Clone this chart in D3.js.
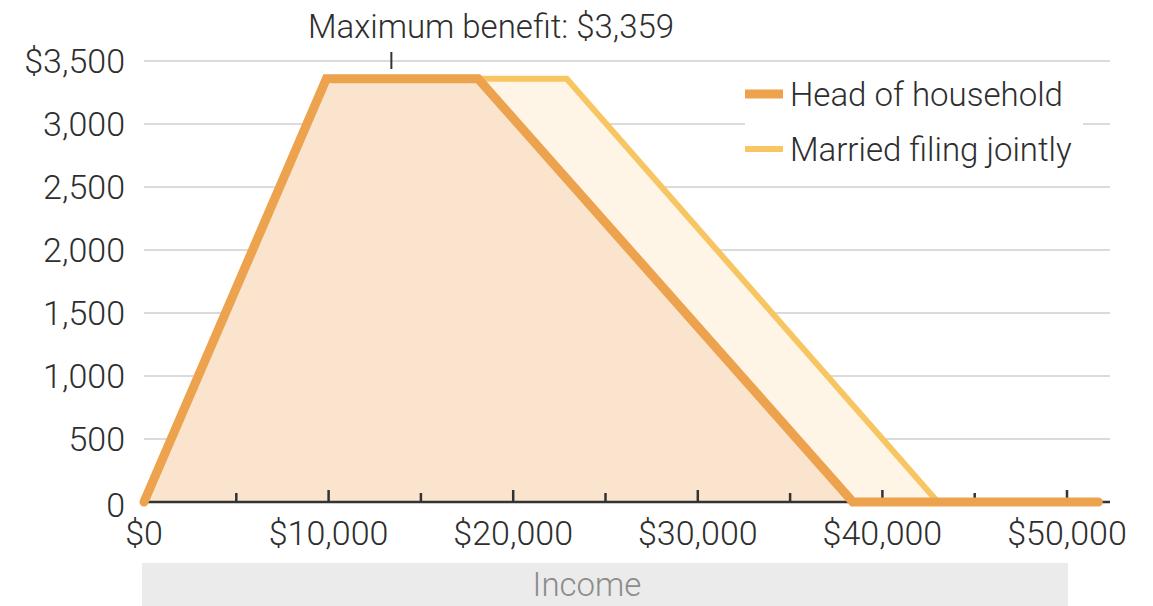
<!DOCTYPE html>
<html>
<head>
<meta charset="utf-8">
<script src="https://cdn.jsdelivr.net/npm/d3@7"></script>
<style>
  html, body { margin: 0; padding: 0; background: #fff; }
  svg { display: block; }
  text { font-family: Roboto, "Noto Sans", sans-serif; font-weight: 300; }
</style>
</head>
<body>
<svg id="chart" width="1153" height="606"></svg>
<script>
// ---- data ----
const hohIncome  = [0, 9880, 18100, 38400, 51700];
const hohBenefit = [0, 3359, 3359, 0, 0];
const mfjIncome  = [0, 9880, 22900, 43000, 51700];
const mfjBenefit = [0, 3359, 3359, 0, 0];

const yTicks = [0, 500, 1000, 1500, 2000, 2500, 3000, 3500];
const yTickLabels = ["0", "500", "1,000", "1,500", "2,000", "2,500", "3,000", "$3,500"];
const xMajorTicks = [0, 10000, 20000, 30000, 40000, 50000];
const xMajorLabels = ["$0", "$10,000", "$20,000", "$30,000", "$40,000", "$50,000"];
const xMinorTicks = [5000, 15000, 25000, 35000, 45000];

const seriesNames = ["Head of household", "Married filing jointly"];
const annotationText = "Maximum benefit: $3,359";
const annotationIncome = 13400;
const xAxisTitle = "Income";

// ---- layout ----
const svg = d3.select("#chart");
const x = d3.scaleLinear().domain([0, 50000]).range([144, 1067]);
const y = d3.scaleLinear().domain([0, 3500]).range([502, 61]);
const xEnd = 1110;

const colHoh = "#EDA24E", colMfj = "#F7C663";
const fillHoh = "#FAE4CD", fillMfj = "#FEF5E7";
const textCol = "#2e2e2e";

// Income band
svg.append("rect").attr("x", 142).attr("y", 563).attr("width", 1068 - 142).attr("height", 50)
  .attr("fill", "#EBEBEB");
svg.append("text").attr("x", 587).attr("y", 596).attr("text-anchor", "middle")
  .attr("font-size", 33).attr("fill", "#8c8c8c").text(xAxisTitle);

// gridlines
svg.append("g").selectAll("line").data(yTicks.slice(1)).join("line")
  .attr("x1", x(0)).attr("x2", xEnd)
  .attr("y1", d => y(d)).attr("y2", d => y(d))
  .attr("stroke", "#cfcfcf").attr("stroke-width", 1.5);

// y labels
svg.append("g").selectAll("text").data(yTicks).join("text")
  .attr("x", 125).attr("y", d => y(d) + (d === 0 ? 3 : 0)).attr("dy", "0.36em")
  .attr("text-anchor", "end").attr("font-size", 34).attr("fill", textCol)
  .text((d, i) => yTickLabels[i]);

// areas
const toPts = (xs, ys) => xs.map((v, i) => [v, ys[i]]);
const hohPts = toPts(hohIncome, hohBenefit);
const mfjPts = toPts(mfjIncome, mfjBenefit);
const area = d3.area().x(d => x(d[0])).y0(y(0)).y1(d => y(d[1]));
const line = d3.line().x(d => x(d[0])).y(d => y(d[1]));

svg.append("path").attr("d", area(mfjPts)).attr("fill", fillMfj);
svg.append("path").attr("d", area(hohPts)).attr("fill", fillHoh);

// axis line and ticks
svg.append("line").attr("x1", x(0)).attr("x2", xEnd).attr("y1", y(0)).attr("y2", y(0))
  .attr("stroke", "#333").attr("stroke-width", 2.5);
svg.append("g").selectAll("line").data(xMajorTicks.slice(1)).join("line")
  .attr("x1", d => x(d)).attr("x2", d => x(d)).attr("y1", y(0)).attr("y2", y(0) - 12)
  .attr("stroke", "#333").attr("stroke-width", 2.5);
svg.append("g").selectAll("line").data(xMinorTicks).join("line")
  .attr("x1", d => x(d)).attr("x2", d => x(d)).attr("y1", y(0)).attr("y2", y(0) - 9)
  .attr("stroke", "#333").attr("stroke-width", 2.5);

// lines
svg.append("path").attr("d", line(mfjPts)).attr("fill", "none")
  .attr("stroke", colMfj).attr("stroke-width", 6).attr("stroke-linejoin", "miter");
svg.append("path").attr("d", line(hohPts)).attr("fill", "none")
  .attr("stroke", colHoh).attr("stroke-width", 9).attr("stroke-linejoin", "miter")
  .attr("stroke-linecap", "round");

// x labels
svg.append("g").selectAll("text").data(xMajorTicks).join("text")
  .attr("x", d => x(d)).attr("y", 545).attr("text-anchor", "middle")
  .attr("font-size", 34).attr("fill", textCol)
  .text((d, i) => xMajorLabels[i]);

// annotation
svg.append("line").attr("x1", x(annotationIncome)).attr("x2", x(annotationIncome))
  .attr("y1", 52).attr("y2", 69).attr("stroke", "#333").attr("stroke-width", 2);
svg.append("text").attr("x", 491).attr("y", 38).attr("text-anchor", "middle")
  .attr("font-size", 33).attr("fill", textCol).text(annotationText);

// legend
svg.append("rect").attr("x", 745).attr("y", 72).attr("width", 338).attr("height", 100).attr("fill", "#fff");
const legend = [
  { name: seriesNames[0], color: colHoh, w: 9, y: 94 },
  { name: seriesNames[1], color: colMfj, w: 6, y: 149 }
];
const lg = svg.append("g").selectAll("g").data(legend).join("g");
lg.append("line").attr("x1", 745).attr("x2", 783).attr("y1", d => d.y).attr("y2", d => d.y)
  .attr("stroke", d => d.color).attr("stroke-width", d => d.w);
lg.append("text").attr("x", 790).attr("y", d => d.y).attr("dy", "0.36em")
  .attr("font-size", 33).attr("fill", textCol).text(d => d.name);
</script>
</body>
</html>
